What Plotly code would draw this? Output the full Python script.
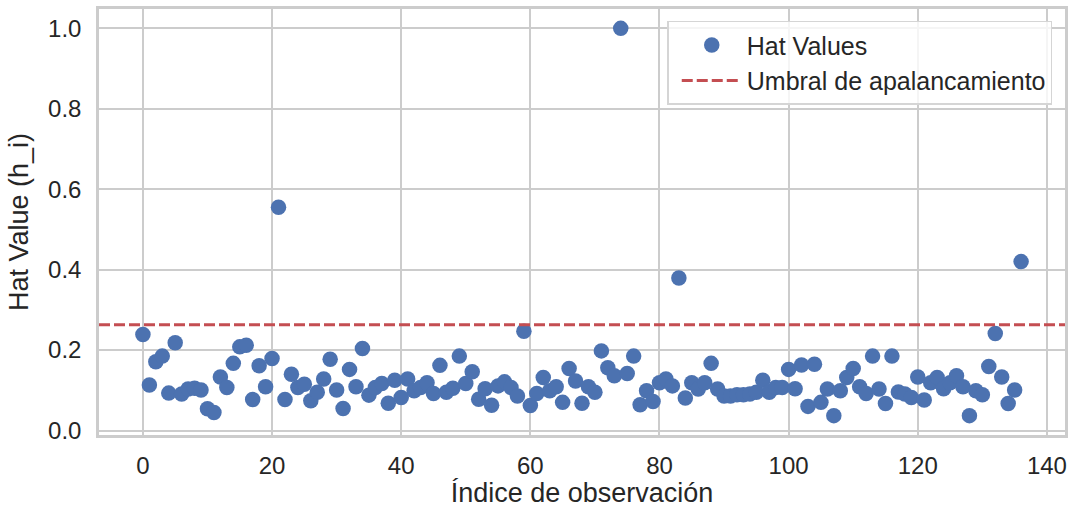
import plotly.graph_objects as go

# Hat values (leverage) per observation
hat_values = [
    0.239, 0.113, 0.171, 0.185, 0.093, 0.218, 0.091, 0.103, 0.105, 0.101,
    0.054, 0.045, 0.133, 0.107, 0.167, 0.208, 0.212, 0.077, 0.161, 0.109,
    0.179, 0.555, 0.077, 0.140, 0.107, 0.115, 0.074, 0.095, 0.128, 0.177,
    0.101, 0.055, 0.152, 0.109, 0.204, 0.088, 0.107, 0.117, 0.068, 0.125,
    0.082, 0.128, 0.099, 0.107, 0.119, 0.092, 0.162, 0.095, 0.105, 0.185,
    0.117, 0.146, 0.078, 0.104, 0.063, 0.111, 0.121, 0.107, 0.086, 0.247,
    0.062, 0.092, 0.132, 0.099, 0.109, 0.070, 0.154, 0.123, 0.068, 0.109,
    0.095, 0.198, 0.156, 0.136, 1.000, 0.142, 0.185, 0.064, 0.099, 0.072,
    0.119, 0.128, 0.111, 0.379, 0.081, 0.119, 0.103, 0.119, 0.167, 0.103,
    0.086, 0.086, 0.089, 0.089, 0.091, 0.095, 0.125, 0.095, 0.107, 0.107,
    0.152, 0.104, 0.163, 0.060, 0.165, 0.070, 0.103, 0.037, 0.099, 0.132,
    0.154, 0.109, 0.092, 0.185, 0.103, 0.067, 0.185, 0.096, 0.091, 0.082,
    0.133, 0.076, 0.119, 0.132, 0.104, 0.119, 0.136, 0.109, 0.037, 0.099,
    0.089, 0.159, 0.241, 0.133, 0.067, 0.101, 0.420,
]
observation_index = list(range(len(hat_values)))

# Leverage threshold 2(p+1)/n
leverage_threshold = 0.263

x_ticks = [0, 20, 40, 60, 80, 100, 120, 140]
y_ticks = [0.0, 0.2, 0.4, 0.6, 0.8, 1.0]

BLUE = "#4C72B0"
RED = "#C44E52"
GRID = "#cccccc"
TEXT = "#262626"
FONT = "Liberation Sans, Arial, sans-serif"

# 5% padding around the data, as in an autoscaled axis
x_pad = 0.05 * (max(observation_index) - min(observation_index))
y_pad = 0.05 * (max(hat_values) - min(hat_values))
x_range = [min(observation_index) - x_pad, max(observation_index) + x_pad]
y_range = [min(hat_values) - y_pad, max(hat_values) + y_pad]

fig = go.Figure()
fig.add_trace(go.Scatter(
    x=observation_index,
    y=hat_values,
    mode="markers",
    name="Hat Values",
    marker=dict(color=BLUE, size=15.5, line=dict(width=0)),
))

fig.add_shape(
    type="line",
    xref="x domain", x0=0, x1=1,
    yref="y", y0=leverage_threshold, y1=leverage_threshold,
    line=dict(color=RED, width=3, dash="11px,4px"),
    name="Umbral de apalancamiento",
    showlegend=True,
)

axis_common = dict(
    showgrid=True,
    gridcolor=GRID,
    gridwidth=2,
    zeroline=False,
    showline=True,
    linecolor=GRID,
    linewidth=2.5,
    mirror=True,
    ticks="",
    automargin=False,
    tickfont=dict(family=FONT, size=24, color=TEXT),
    title_font=dict(family=FONT, size=27, color=TEXT),
)

fig.update_layout(
    width=1077,
    height=508,
    margin=dict(l=99, r=12, t=9, b=73),
    paper_bgcolor="white",
    plot_bgcolor="white",
    font=dict(family=FONT, color=TEXT),
    xaxis=dict(
        axis_common,
        range=x_range,
        tickvals=x_ticks,
        ticktext=[str(v) for v in x_ticks],
        ticklabelstandoff=7,
        title=dict(text="Índice de observación", standoff=8),
    ),
    yaxis=dict(
        axis_common,
        range=y_range,
        tickvals=y_ticks,
        ticktext=[f"{v:.1f}" for v in y_ticks],
        ticklabelstandoff=10,
        title=dict(text="Hat Value (h_i)", standoff=12),
    ),
    legend=dict(
        x=0.9868, y=0.9725,
        xanchor="right", yanchor="top",
        bgcolor="rgba(255,255,255,0.8)",
        bordercolor="#d5d5d5",
        borderwidth=1.5,
        font=dict(family=FONT, size=25, color=TEXT),
        itemwidth=60,
        indentation=8,
        tracegroupgap=2,
    ),
    showlegend=True,
)

fig.write_html("out.html")
